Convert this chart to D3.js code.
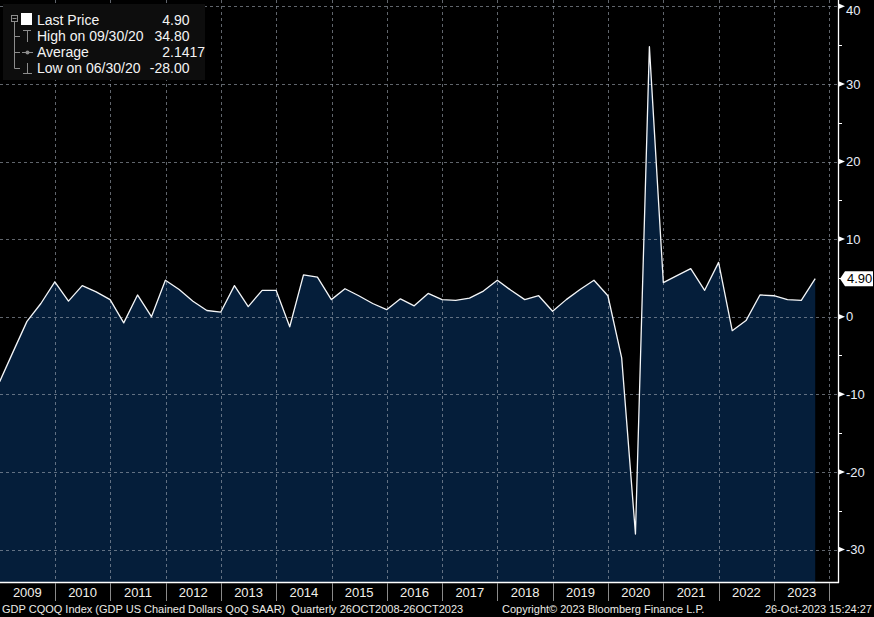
<!DOCTYPE html>
<html><head><meta charset="utf-8">
<script src="https://cdn.jsdelivr.net/npm/d3@7"></script>
<style>body{margin:0;background:#000}svg{display:block}</style>
</head><body>
<svg id="c" width="874" height="617"></svg>
<script>
// ---- data (quarterly, first value is 2008 Q4, plotted at quarter-end) ----
const firstQuarterEnd = [2008, 12];
const gdpQoQ = [
  -8.4,
  -4.5, -0.6, 1.7, 4.5,
  2.0, 4.0, 3.2, 2.2,
  -0.8, 2.8, 0.0, 4.7,
  3.5, 2.0, 0.8, 0.6,
  4.0, 1.3, 3.4, 3.4,
  -1.3, 5.4, 5.1, 2.2,
  3.6, 2.7, 1.7, 0.9,
  2.3, 1.4, 3.0, 2.2,
  2.1, 2.4, 3.3, 4.7,
  3.4, 2.2, 2.7, 0.7,
  2.2, 3.5, 4.7, 2.7,
  -5.3, -28.0, 34.8, 4.4,
  5.3, 6.2, 3.4, 7.0,
  -1.8, -0.5, 2.8, 2.7,
  2.2, 2.1, 4.9
];
const yMajorTicks = [-30, -20, -10, 0, 10, 20, 30, 40];
const yMinorTicks = [-25, -15, -5, 5, 15, 25, 35];
const yearLabels = ["2009","2010","2011","2012","2013","2014","2015","2016","2017","2018","2019","2020","2021","2022","2023"];
const legendNames = ["Last Price", "High on 09/30/20", "Average", "Low on 06/30/20"];
const legendValues = ["4.90", "34.80", "2.1417", "-28.00"];
const lastValueLabel = "4.90";
const footerLeft = "GDP CQOQ Index (GDP US Chained Dollars QoQ SAAR)  Quarterly 26OCT2008-26OCT2023";
const footerMid = "Copyright\u00A9 2023 Bloomberg Finance L.P.";
const footerRight = "26-Oct-2023 15:24:27";

// ---- layout ----
const plotRight = 838, plotBottom = 582, axisRowBottom = 601;
const svg = d3.select("#c");
const font = "'Liberation Sans', Arial, sans-serif";

const data = gdpQoQ.map((v, i) => ({
  date: new Date(Date.UTC(firstQuarterEnd[0], firstQuarterEnd[1] + 3 * i, 0)),
  v
}));

const x = d3.scaleUtc()
  .domain([new Date(Date.UTC(2009, 0, 1)), new Date(Date.UTC(2024, 0, 1))])
  .range([-0.3, 829.3]);
const y = d3.scaleLinear().domain([0, 40]).range([316.7, 6.3]);

svg.append("rect").attr("width", 874).attr("height", 617).attr("fill", "#000");

// area
svg.append("path").datum(data)
  .attr("fill", "#051e3a")
  .attr("d", d3.area().x(d => x(d.date)).y0(plotBottom).y1(d => y(d.v)));

// grid
const yearBounds = d3.range(2010, 2025).map(yr => new Date(Date.UTC(yr, 0, 1)));
const grid = svg.append("g").attr("stroke", "#a0a8b4").attr("stroke-opacity", 0.6)
  .attr("stroke-width", 1).attr("stroke-dasharray", "3,3");
grid.selectAll("line.v").data(yearBounds).join("line").attr("class", "v")
  .attr("x1", d => Math.round(x(d)) + 0.5).attr("x2", d => Math.round(x(d)) + 0.5)
  .attr("y1", 0).attr("y2", plotBottom);
grid.selectAll("line.h").data(yMajorTicks).join("line").attr("class", "h")
  .attr("x1", 0).attr("x2", plotRight)
  .attr("y1", d => Math.round(y(d)) + 0.5).attr("y2", d => Math.round(y(d)) + 0.5);

// line
svg.append("path").datum(data)
  .attr("fill", "none").attr("stroke", "#f4f6f8").attr("stroke-width", 1.3)
  .attr("stroke-linejoin", "round")
  .attr("d", d3.line().x(d => x(d.date)).y(d => y(d.v)));

// plot frame (right + bottom)
svg.append("line").attr("x1", plotRight + 0.5).attr("x2", plotRight + 0.5)
  .attr("y1", 0).attr("y2", plotBottom + 1).attr("stroke", "#fff").attr("stroke-width", 1.3);
svg.append("line").attr("x1", 0).attr("x2", plotRight + 1)
  .attr("y1", plotBottom + 0.5).attr("y2", plotBottom + 0.5).attr("stroke", "#fff").attr("stroke-width", 1.3);

// right axis
const ax = svg.append("g");
ax.selectAll("path.tri").data(yMajorTicks).join("path").attr("class", "tri")
  .attr("fill", "#fff")
  .attr("d", d => { const yy = y(d); return `M${plotRight},${yy - 3}L${plotRight + 7},${yy}L${plotRight},${yy + 3}Z`; });
ax.selectAll("line.minor").data(yMinorTicks).join("line").attr("class", "minor")
  .attr("x1", plotRight).attr("x2", plotRight + 4)
  .attr("y1", d => Math.round(y(d)) + 0.5).attr("y2", d => Math.round(y(d)) + 0.5)
  .attr("stroke", "#fff").attr("stroke-width", 1);
ax.selectAll("text").data(yMajorTicks).join("text")
  .attr("x", plotRight + 8).attr("y", d => Math.max(y(d), 10.5) + 4.7)
  .attr("fill", "#e8eef8").attr("font-family", font).attr("font-size", 13)
  .text(d => d3.format("d")(d).replace("−", "-"));

// last value tag
const ly = y(gdpQoQ[gdpQoQ.length - 1]);
svg.append("path").attr("fill", "#fff")
  .attr("d", `M${plotRight + 2},${ly}L${plotRight + 7},${ly - 7.5}L873,${ly - 7.5}L873,${ly + 7.5}L${plotRight + 7},${ly + 7.5}Z`);
svg.append("text").attr("x", plotRight + 9).attr("y", ly + 4.7)
  .attr("fill", "#000").attr("font-family", font).attr("font-size", 13).text(lastValueLabel);

// bottom axis row
svg.selectAll("line.sep").data(yearBounds).join("line").attr("class", "sep")
  .attr("x1", d => Math.round(x(d)) + 0.5).attr("x2", d => Math.round(x(d)) + 0.5)
  .attr("y1", plotBottom + 1).attr("y2", axisRowBottom)
  .attr("stroke", "#8a8a8a").attr("stroke-width", 1);
svg.selectAll("text.yr").data(yearLabels).join("text").attr("class", "yr")
  .attr("x", d => (x(new Date(Date.UTC(+d, 0, 1))) + x(new Date(Date.UTC(+d + 1, 0, 1)))) / 2)
  .attr("y", 597).attr("text-anchor", "middle")
  .attr("fill", "#f2f0ea").attr("font-family", font).attr("font-size", 13).text(d => d);

// footer
const ft = svg.append("g").attr("fill", "#ecebe6").attr("font-family", font).attr("font-size", 11);
ft.append("text").attr("x", 2).attr("y", 613).attr("xml:space", "preserve").text(footerLeft);
ft.append("text").attr("x", 502).attr("y", 613).text(footerMid);
ft.append("text").attr("x", 872).attr("y", 613).attr("text-anchor", "end").text(footerRight);

// legend
const lg = svg.append("g");
lg.append("rect").attr("x", 3).attr("y", 4).attr("width", 202).attr("height", 76).attr("fill", "#0d0d0d");
const rowY = [20, 36, 52, 68];
const gray = "#8c8c8c";
// tree
lg.append("rect").attr("x", 11.5).attr("y", 15.5).attr("width", 6).attr("height", 6)
  .attr("fill", "none").attr("stroke", gray);
lg.append("line").attr("x1", 12.5).attr("x2", 16.5).attr("y1", 18.5).attr("y2", 18.5).attr("stroke", gray);
lg.append("line").attr("x1", 14.5).attr("x2", 14.5).attr("y1", 22).attr("y2", rowY[3] + 0.5).attr("stroke", gray);
rowY.slice(1).forEach(ry => {
  lg.append("line").attr("x1", 14.5).attr("x2", 20).attr("y1", ry + 0.5).attr("y2", ry + 0.5).attr("stroke", gray);
});
lg.append("rect").attr("x", 21).attr("y", 13).attr("width", 11).attr("height", 12).attr("fill", "#fff");
// high icon (T)
lg.append("path").attr("stroke", gray).attr("fill", "none")
  .attr("d", `M23,${rowY[1] - 5.5}H31M27.5,${rowY[1] - 5.5}V${rowY[1] + 6}`);
// average icon
lg.append("path").attr("stroke", gray).attr("fill", "none")
  .attr("d", `M22,${rowY[2] + 0.5}H33`);
lg.append("circle").attr("cx", 27.5).attr("cy", rowY[2] + 0.5).attr("r", 2).attr("fill", gray);
// low icon (inverted T)
lg.append("path").attr("stroke", gray).attr("fill", "none")
  .attr("d", `M27.5,${rowY[3] - 5}V${rowY[3] + 5.5}M23,${rowY[3] + 5.5}H32`);
lg.selectAll("text.nm").data(legendNames).join("text").attr("class", "nm")
  .attr("x", 37).attr("y", (d, i) => rowY[i] + 5).attr("fill", "#f4f4f4")
  .attr("font-family", font).attr("font-size", 14).text(d => d);
// values aligned on decimal point
const decX = 170;
legendValues.forEach((v, i) => {
  const [a, b] = v.split(".");
  lg.append("text").attr("x", decX).attr("y", rowY[i] + 5).attr("text-anchor", "end")
    .attr("fill", "#f4f4f4").attr("font-family", font).attr("font-size", 14).text(a);
  lg.append("text").attr("x", decX).attr("y", rowY[i] + 5)
    .attr("fill", "#f4f4f4").attr("font-family", font).attr("font-size", 14).text("." + b);
});
</script>
</body></html>
